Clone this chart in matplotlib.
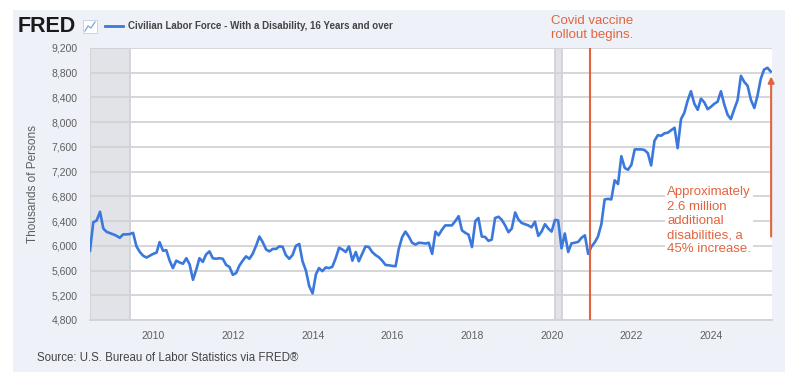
import numpy as np
import pandas as pd
import matplotlib
matplotlib.use("Agg")
import matplotlib.pyplot as plt
import matplotlib.dates as mdates
from matplotlib.lines import Line2D
from matplotlib.patches import Rectangle
from matplotlib.ticker import FuncFormatter

# monthly values, thousands of persons, starting June 2008
start_month = "2008-06-01"
lf_2008_2010 = [5920, 6380, 6410, 6550, 6280, 6225, 6205, 6185, 6160, 6130, 6185, 6185, 6190, 6210,
                5990, 5900, 5840, 5810, 5840, 5870, 5890, 6060, 5920,
                5930, 5760, 5640, 5760, 5730, 5710, 5800, 5700, 5450]
lf_2011_2013 = [5620, 5800, 5740, 5860, 5910, 5800, 5790, 5800, 5790, 5690, 5660, 5530, 5560, 5680,
                5760, 5830, 5790, 5870, 6000, 6150, 6060, 5940, 5910, 5950, 5950, 5990, 5985, 5850,
                5790, 5850]
lf_2013_2016 = [6000, 6030, 5750, 5600, 5350, 5230, 5540, 5640, 5590, 5650, 5640, 5660, 5800, 5970,
                5940, 5900, 5990, 5760, 5900, 5750, 5870, 5990, 5980, 5900, 5850, 5815, 5760, 5690,
                5685, 5675, 5670, 5950, 6140]
lf_2016_2021 = [6230, 6150, 6050, 6020, 6050, 6045, 6037, 6050, 5870, 6230, 6170, 6260, 6330, 6330,
                6330, 6400, 6480, 6250, 6210, 6180, 5980, 6400, 6450, 6150, 6144, 6080, 6100, 6450,
                6470, 6420, 6330, 6220, 6280, 6540, 6430, 6370, 6350, 6330, 6300, 6390, 6160, 6230,
                6350, 6280, 6230, 6420, 6410, 5960, 6200, 5900, 6040, 6050, 6064, 6130, 6170, 5870,
                5990, 6060, 6150]
lf_2021_2025 = [6350, 6750, 6760, 6750, 7060, 7000, 7450, 7260, 7230, 7310, 7560, 7560, 7560, 7550,
                7500, 7300, 7700, 7790, 7780, 7820, 7830, 7870, 7910, 7580, 8050, 8150, 8350, 8500,
                8300, 8200, 8380, 8320, 8210, 8250, 8300, 8330, 8500, 8290, 8120, 8050, 8210, 8360,
                8750, 8650, 8590, 8360, 8230, 8420, 8700, 8850, 8880, 8820]
labor_force = lf_2008_2010 + lf_2011_2013 + lf_2013_2016 + lf_2016_2021 + lf_2021_2025

recessions = [("2008-06-01", "2009-06-01"), ("2020-02-01", "2020-04-01")]
vaccine_date = "2020-12-20"
arrow_date = "2025-07-05"
arrow_from, arrow_to = 6150, 8740
y_ticks = list(range(4800, 9201, 400))
x_tick_years = list(range(2010, 2025, 2))

series_name = "Civilian Labor Force - With a Disability, 16 Years and over"
vaccine_note = "Covid vaccine\nrollout begins."
increase_note = "Approximately\n2.6 million\nadditional\ndisabilities, a\n45% increase."
source_note = "Source: U.S. Bureau of Labor Statistics via FRED®"

BLUE = "#3b78de"
ORANGE = "#e2643f"
GRID = "#d3d3d6"
TXT = "#5f5f5f"

plt.rcParams["font.family"] = ["Liberation Sans", "DejaVu Sans"]

dates = pd.date_range(start_month, periods=len(labor_force), freq="MS")

fig = plt.figure(figsize=(8, 3.8), dpi=100)
fig.patch.set_facecolor("white")
fig.patches.append(Rectangle((13 / 800, 8 / 380), 772 / 800, 362 / 380,
                             transform=fig.transFigure, facecolor="#eef1f8",
                             edgecolor="none", zorder=-10))

ax = fig.add_axes([90 / 800, 1 - 320 / 380, 682 / 800, 272 / 380])
ax.set_facecolor("white")

for a, b in recessions:
    ax.axvspan(pd.Timestamp(a), pd.Timestamp(b), facecolor="#e2e3e8",
               edgecolor="#cfd0d4", lw=1.2, zorder=1)

for yv in y_ticks:
    ax.axhline(yv, color=GRID, lw=1.3, zorder=2)

ax.plot(dates, labor_force, color=BLUE, lw=1.9, zorder=4, solid_joinstyle="round")

ax.axvline(pd.Timestamp(vaccine_date), color=ORANGE, lw=1.5, zorder=5)
ax.annotate("", xy=(pd.Timestamp(arrow_date), arrow_to),
            xytext=(pd.Timestamp(arrow_date), arrow_from),
            arrowprops=dict(arrowstyle="-|>", color=ORANGE, lw=1.5,
                            mutation_scale=9, shrinkA=0, shrinkB=0), zorder=5)

ax.set_ylim(4800, 9200)
ax.set_xlim(pd.Timestamp("2008-06-01"), pd.Timestamp("2025-07-13"))
ax.set_yticks(y_ticks)
ax.yaxis.set_major_formatter(FuncFormatter(lambda v, p: f"{int(v):,}"))
ax.set_xticks([pd.Timestamp(f"{y}-01-01") for y in x_tick_years])
ax.xaxis.set_major_formatter(mdates.DateFormatter("%Y"))
ax.tick_params(axis="both", length=0, labelsize=7.5, labelcolor=TXT)
ax.tick_params(axis="y", pad=9)
ax.tick_params(axis="x", pad=8)
for side in ["top", "right", "left"]:
    ax.spines[side].set_visible(False)
ax.spines["bottom"].set_color(GRID)
ax.spines["bottom"].set_linewidth(1.3)

ax.set_ylabel("Thousands of Persons", fontsize=8.5, color=TXT, labelpad=9)

# header: logo, legend entry
fig.text(18 / 800, 1 - 27 / 380, "FRED", fontsize=15.5, fontweight="heavy",
         color="#1a1a1a", va="center", ha="left")
fig.patches.append(Rectangle((83 / 800, 1 - 33 / 380), 14 / 800, 13 / 380,
                             transform=fig.transFigure, facecolor="white",
                             edgecolor="#c8cde0", lw=0.6))
fig.lines.append(Line2D([85 / 800, 88 / 800, 91 / 800, 95 / 800],
                        [1 - 31 / 380, 1 - 26 / 380, 1 - 28 / 380, 1 - 22 / 380],
                        transform=fig.transFigure, color="#7fa2dc", lw=0.9))
fig.lines.append(Line2D([105 / 800, 123 / 800], [1 - 26 / 380, 1 - 26 / 380],
                        transform=fig.transFigure, color=BLUE, lw=2))
fig.text(128 / 800, 1 - 26 / 380, series_name, fontsize=7, fontweight="bold",
         color="#444444", va="center", ha="left")

fig.text(551 / 800, 1 - 28 / 380, vaccine_note, fontsize=9.5, color=ORANGE,
         va="center", ha="left", linespacing=1.3)
fig.text(667 / 800, 1 - 221 / 380, increase_note, fontsize=9.5, color=ORANGE,
         va="center", ha="left", linespacing=1.25,
         bbox=dict(facecolor="white", edgecolor="none", pad=1.5), zorder=10)

fig.text(37 / 800, 1 - 358 / 380, source_note, fontsize=8.3, color="#444444",
         va="center", ha="left")

fig.savefig("out.png", dpi=100)
